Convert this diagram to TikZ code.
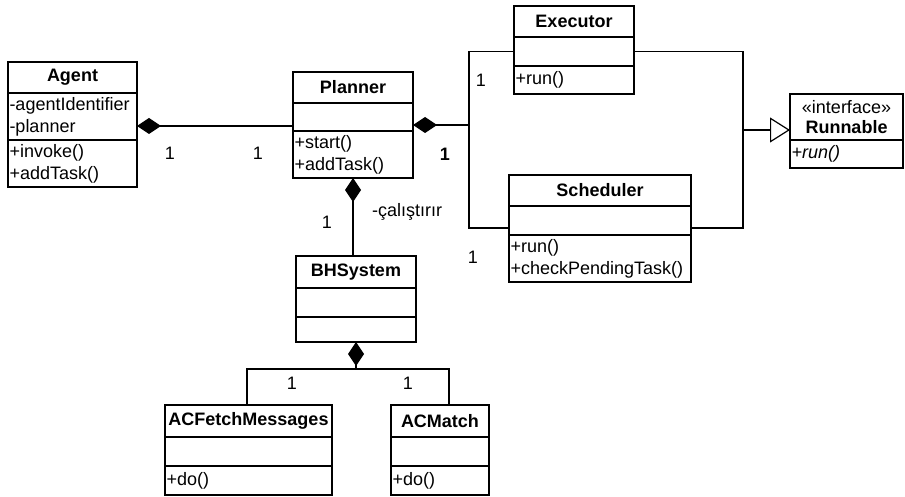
\documentclass[tikz,border=0pt]{standalone}
\usepackage{fontspec}
\setmainfont{Liberation Sans}
\usetikzlibrary{arrows.meta, positioning}

\begin{document}
\begin{tikzpicture}[x=1pt, y=-1pt, line width=1.2pt,
        font=\fontsize{18}{22}\selectfont,
        head/.style 2 args={draw, minimum width=#1, minimum height=#2, inner sep=0pt, outer sep=0pt, font=\fontsize{18}{22}\selectfont\bfseries},
        members/.style 2 args={draw, text width=#1, minimum height=#2, align=left, inner xsep=1.5pt, inner ysep=0pt, outer sep=0pt},
        compose/.style={{Diamond[length=24pt, width=16pt]}-},
        realize/.style={-{Triangle[open, length=20pt, width=25pt]}}
    ]
        \useasboundingbox (0,0) rectangle (905,497);

        % Classes
        \node[head={129pt}{31pt}, anchor=north west] (agent) at (8,62) {Agent};
        \node[members={126pt}{47pt}, below=0pt of agent] (agentattr) {-agentIdentifier\\-planner};
        \node[members={126pt}{47pt}, below=0pt of agentattr] (agentmeth) {+invoke()\\+addTask()};

        \node[head={120pt}{31pt}, anchor=north west] (planner) at (293,72) {Planner};
        \node[members={117pt}{28pt}, below=0pt of planner] (planattr) {};
        \node[members={117pt}{47pt}, below=0pt of planattr] (planmeth) {+start()\\+addTask()};

        \node[head={120pt}{31pt}, anchor=north west] (exec) at (514,6) {Executor};
        \node[members={117pt}{29pt}, below=0pt of exec] (execattr) {};
        \node[members={117pt}{28pt}, below=0pt of execattr] (execmeth) {+run()};

        \node[head={182pt}{31pt}, anchor=north west] (sched) at (509,175) {Scheduler};
        \node[members={179pt}{29pt}, below=0pt of sched] (schedattr) {};
        \node[members={179pt}{47pt}, below=0pt of schedattr] (schedmeth) {+run()\\+checkPendingTask()};

        \node[head={113pt}{46pt}, anchor=north west, align=center, font=\fontsize{18}{20}\selectfont] (runhead) at (790,94) {«interface»\\\textbf{Runnable}};
        \node[members={110pt}{28pt}, below=0pt of runhead] (runmeth) {\textit{+run()}};

        \node[head={120pt}{32pt}, anchor=north west] (bhs) at (296,256) {BHSystem};
        \node[members={117pt}{29pt}, below=0pt of bhs] (bhsattr) {};
        \node[members={117pt}{25pt}, below=0pt of bhsattr] (bhsmeth) {};

        \node[head={167pt}{32pt}, anchor=north west] (fetch) at (165,405) {ACFetchMessages};
        \node[members={164pt}{29pt}, below=0pt of fetch] (fetchattr) {};
        \node[members={164pt}{29pt}, below=0pt of fetchattr] (fetchmeth) {+do()};

        \node[head={98pt}{32pt}, anchor=north west] (match) at (391,405) {ACMatch};
        \node[members={95pt}{29pt}, below=0pt of match] (matchattr) {};
        \node[members={95pt}{29pt}, below=0pt of matchattr] (matchmeth) {+do()};

        % Agent - Planner
        \coordinate (ap) at ([yshift=-9.5pt]agentattr.east);
        \draw[compose] (ap) -- (ap -| planattr.west);

        % Planner - Executor, Scheduler
        \coordinate (pe) at ([yshift=-8pt]planattr.east);
        \coordinate (pj) at ([xshift=56pt]pe);
        \draw[compose] (pe) -- (pj);
        \draw (execattr.west) -| (pj) |- ([yshift=-7.5pt]schedattr.west);

        % Executor, Scheduler - Runnable
        \coordinate (rj) at (743,130);
        \draw (execattr.east) -| (rj) |- ([yshift=-7.5pt]schedattr.east);
        \draw[realize] (rj) -- (rj -| runhead.west);

        % Planner - BHSystem
        \draw[compose] (planmeth.south) -- (planmeth.south |- bhs.north);

        % BHSystem - actions
        \coordinate (bj) at ([yshift=-27pt]bhsmeth.south);
        \draw[compose] (bhsmeth.south) -- (bj) -| ([xshift=-1.5pt]fetch.north);
        \draw (bj) -| ([xshift=9pt]match.north);

        % Multiplicities
        \node (m1) at (170,153) {1};
        \node (m2) at (258,153) {1};
        \node[font=\fontsize{18}{22}\selectfont\bfseries] (m3) at (445,154) {1};
        \node (m4) at (481,80) {1};
        \node (m5) at (473,257) {1};
        \node (m6) at (327,222) {1};
        \node (m7) at (292,383) {1};
        \node (m8) at (408,383) {1};
        \node (role) at (407,212) {-çalıştırır};

    \end{tikzpicture}
\end{document}
